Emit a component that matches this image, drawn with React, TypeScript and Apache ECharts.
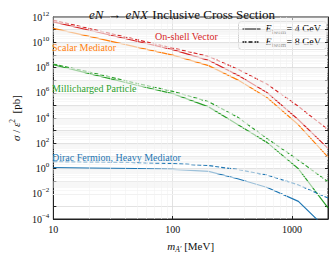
import React, { useEffect, useRef } from "react";
import * as echarts from "echarts";

const masses = [10, 20, 50, 100, 200, 350, 620, 1130, 2000];
const vectorE4 = [4.1e11, 8.9e10, 1.2e10, 2.6e9, 3.7e8, 2.5e7, 1.0e6, 7.2e3, 39];
const vectorE8 = [5.5e11, 1.23e11, 1.6e10, 3.5e9, 7.6e8, 7.4e7, 4.7e6, 8.3e4, 1.2e3];
const scalarE4 = [1.26e11, 2.9e10, 4.1e9, 9.5e8, 1.4e8, 1.05e7, 4.0e5, 2.9e3, 7.9];
const millichargedE4 = [1.65e8, 3.3e7, 3.9e6, 8.5e5, 7.6e4, 3.1e3, 112, 0.95, 7.6e-4];
const millichargedE8 = [1.86e8, 4.4e7, 5.5e6, 1.3e6, 1.95e5, 1.17e4, 230, 4.6, 0.089];
const diracE4 = [1.2, 1.1, 1.0, 0.85, 0.59, 0.155, 0.031, 2.5e-3, 1.3e-5];
const diracE8 = [3.5, 3.2, 2.95, 2.5, 1.7, 0.83, 0.3, 0.05, 4.6e-3];

const xMinorTicks = [20, 30, 40, 50, 60, 70, 80, 90, 200, 300, 400, 500, 600, 700, 800, 900];
const yDecades = [-4, -3, -2, -1, 0, 1, 2, 3, 4, 5, 6, 7, 8, 9, 10, 11];
const yMinorMult = [2, 3, 4, 5, 6, 7, 8, 9];
const xTickLabels = [10, 100, 1000];
const beamEnergies = [4, 8];

const RED = "#d62728";
const ORANGE = "#ff7f0e";
const GREEN = "#2ca02c";
const BLUE = "#1f77b4";
const SERIF = "'Liberation Serif', 'DejaVu Serif', serif";

const pairs = (ys: number[]) => masses.map((m, i) => [m, ys[i]]);

export default function App() {
  const ref = useRef<HTMLDivElement>(null);
  useEffect(() => {
    document.body.style.margin = "0";
    const chart = echarts.init(ref.current!, null, { renderer: "svg" });
    const line = (name: string, data: number[], color: string, dashed: boolean) => ({
      name,
      type: "line",
      data: pairs(data),
      symbol: "none",
      lineStyle: { color, width: 1.2, type: dashed ? [4, 2] : "solid" },
      itemStyle: { color },
      z: 3,
    });
    const yMinor: number[] = [];
    yDecades.forEach((e) => yMinorMult.forEach((m) => yMinor.push(m * Math.pow(10, e))));
    const legendEntry = (y: number, n: number) => [
      { type: "text", x: 27, y, z2: 5, style: { text: "E", fill: "#000", font: `italic 10px ${SERIF}` } },
      { type: "text", x: 33.5, y: y + 4.5, z2: 5, style: { text: "beam", fill: "#000", font: `6.5px ${SERIF}` } },
      { type: "text", x: 48, y, z2: 5, style: { text: `= ${n} GeV`, fill: "#000", font: `10px ${SERIF}` } },
    ];
    const option: any = {
      animation: false,
      backgroundColor: "#fff",
      textStyle: { fontFamily: SERIF },
      title: {
        text: "{i|eN} {n|→} {i|eNX} {n|Inclusive Cross Section}",
        left: 84,
        top: 0,
        textStyle: {
          fontWeight: "normal",
          rich: {
            i: { fontFamily: SERIF, fontStyle: "italic", fontWeight: "normal", fontSize: 13, color: "#111" },
            n: { fontFamily: SERIF, fontWeight: "normal", fontSize: 13, color: "#111" },
          },
        },
      },
      grid: {
        left: 46,
        right: 4,
        top: 17,
        bottom: 35,
        show: true,
        borderColor: "#222",
        borderWidth: 1,
        backgroundColor: "#fff",
      },
      xAxis: [
        {
          type: "log",
          logBase: 10,
          min: 10,
          max: 2000,
          interval: 1,
          name: "{i|m}{s|A′}{n| [MeV]}",
          nameLocation: "middle",
          nameGap: 20,
          nameTextStyle: {
            rich: {
              i: { fontFamily: SERIF, fontStyle: "italic", fontSize: 11, color: "#111" },
              s: { fontFamily: SERIF, fontStyle: "italic", fontSize: 7.5, color: "#111", padding: [6, 0, 0, 0] },
              n: { fontFamily: SERIF, fontSize: 11, color: "#111" },
            },
          },
          axisLine: { show: true, lineStyle: { color: "#222", width: 1 } },
          axisTick: { show: true, inside: true, length: 3, lineStyle: { color: "#222" } },
          axisLabel: {
            color: "#111",
            fontFamily: SERIF,
            fontSize: 10,
            margin: 5,
            showMaxLabel: false,
            formatter: (v: number) => (xTickLabels.some((t) => Math.abs(t - v) < 1e-6 * t) ? String(Math.round(v)) : ""),
          },
          splitLine: { show: true, lineStyle: { color: "#dadada", width: 0.8 } },
        },
        {
          type: "log",
          logBase: 10,
          min: 10,
          max: 2000,
          interval: 1,
          position: "top",
          axisLine: { show: true, lineStyle: { color: "#222", width: 1 } },
          axisTick: { show: true, inside: true, length: 3, lineStyle: { color: "#222" } },
          axisLabel: { show: false },
          splitLine: { show: false },
        },
      ],
      yAxis: [
        {
          type: "log",
          logBase: 10,
          min: 1e-4,
          max: 1e12,
          interval: 1,
          name: "{i|σ}{n| / }{i|ε}{s|2}{n|  [pb]}",
          nameLocation: "middle",
          nameGap: 25,
          nameRotate: 90,
          nameTextStyle: {
            rich: {
              i: { fontFamily: SERIF, fontStyle: "italic", fontSize: 11, color: "#111" },
              s: { fontFamily: SERIF, fontSize: 7.5, color: "#111", padding: [0, 0, 7, 0] },
              n: { fontFamily: SERIF, fontSize: 11, color: "#111" },
            },
          },
          axisLine: { show: true, lineStyle: { color: "#222", width: 1 } },
          axisTick: { show: true, inside: true, length: 3, lineStyle: { color: "#222" } },
          axisLabel: {
            margin: 4,
            showMinLabel: true,
            showMaxLabel: true,
            formatter: (v: number) => {
              const e = Math.round(Math.log10(v));
              if (e % 2 !== 0) return "";
              return `{b|10}{s|${e < 0 ? "−" + -e : e}}`;
            },
            rich: {
              b: { fontFamily: SERIF, fontSize: 10, color: "#111" },
              s: { fontFamily: SERIF, fontSize: 7, color: "#111", padding: [0, 0, 7, 0] },
            },
          },
          splitLine: { show: true, lineStyle: { color: "#dadada", width: 0.8 } },
        },
        {
          type: "log",
          logBase: 10,
          min: 1e-4,
          max: 1e12,
          interval: 1,
          position: "right",
          axisLine: { show: true, lineStyle: { color: "#222", width: 1 } },
          axisTick: { show: true, inside: true, length: 3, lineStyle: { color: "#222" } },
          axisLabel: { show: false },
          splitLine: { show: false },
        },
      ],
      series: [
        {
          name: "minor",
          type: "line",
          data: [],
          silent: true,
          z: 1,
          markLine: {
            silent: true,
            symbol: "none",
            label: { show: false },
            lineStyle: { color: "#f2f2f2", width: 0.6, type: "solid" },
            data: [
              ...xMinorTicks.map((v) => ({ xAxis: v })),
              ...yMinor.map((v) => ({ yAxis: v })),
            ],
          },
        },
        line("vectorE4", vectorE4, RED, false),
        line("vectorE8", vectorE8, RED, true),
        line("scalarE4", scalarE4, ORANGE, false),
        line("millichargedE4", millichargedE4, GREEN, false),
        line("millichargedE8", millichargedE8, GREEN, true),
        line("diracE4", diracE4, BLUE, false),
        line("diracE8", diracE8, BLUE, true),
      ],
      graphic: [
        { type: "text", left: 155, top: 31, z: 10, style: { text: "On-shell Vector", fill: RED, font: `10px ${SERIF}` } },
        { type: "text", left: 52, top: 42, z: 10, style: { text: "Scalar Mediator", fill: ORANGE, font: `10px ${SERIF}` } },
        { type: "text", left: 52, top: 83, z: 10, style: { text: "Millicharged Particle", fill: GREEN, font: `10px ${SERIF}` } },
        { type: "text", left: 52, top: 152, z: 10, style: { text: "Dirac Fermion, Heavy Mediator", fill: BLUE, font: `10px ${SERIF}` } },
        {
          type: "group",
          left: 238,
          top: 21,
          z: 20,
          children: [
            {
              type: "rect",
              z2: 0,
              shape: { x: 0, y: 0, width: 88, height: 28, r: 3 },
              style: { fill: "#ffffff", stroke: "#cccccc", lineWidth: 1 },
            },
            {
              type: "line",
              z2: 5,
              shape: { x1: 4, y1: 7.5, x2: 22, y2: 7.5 },
              style: { stroke: "#444", lineWidth: 1.3 },
            },
            {
              type: "line",
              z2: 5,
              shape: { x1: 4, y1: 20.5, x2: 22, y2: 20.5 },
              style: { stroke: "#111", lineWidth: 1.3, lineDash: [4, 2] },
            },
            ...legendEntry(2, beamEnergies[0]),
            ...legendEntry(15, beamEnergies[1]),
          ],
        },
      ],
    };
    chart.setOption(option);
    return () => chart.dispose();
  }, []);
  return <div ref={ref} style={{ width: 332, height: 258 }} />;
}
